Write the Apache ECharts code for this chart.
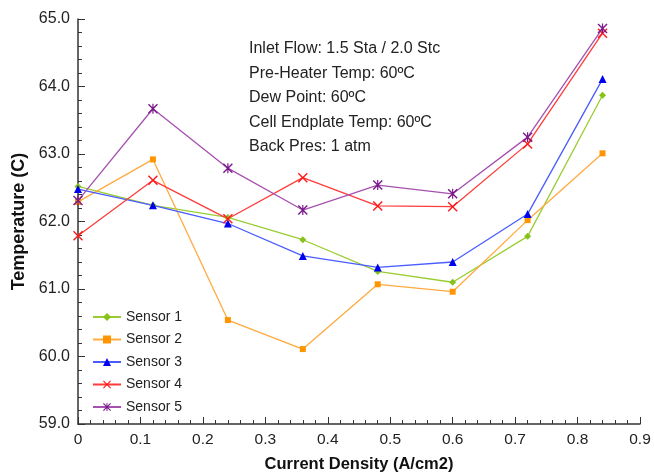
<!DOCTYPE html>
<html>
<head>
<meta charset="utf-8">
<script src="https://cdn.jsdelivr.net/npm/echarts@6/dist/echarts.min.js"></script>
<style>
    html, body { margin: 0; padding: 0; background: #fff; }
    #chart { width: 654px; height: 473px; }
</style>
</head>
<body>
<div id="chart"></div>
<script>
const currentDensity = [0, 0.12, 0.24, 0.36, 0.48, 0.6, 0.72, 0.84];

const sensor1 = [62.52, 62.24, 62.06, 61.73, 61.26, 61.10, 61.78, 63.87];
const sensor2 = [62.29, 62.92, 60.54, 60.11, 61.07, 60.96, 62.02, 63.01];
const sensor3 = [62.48, 62.24, 61.97, 61.49, 61.32, 61.40, 62.11, 64.11];
const sensor4 = [61.79, 62.61, 62.04, 62.65, 62.23, 62.22, 63.15, 64.79];
const sensor5 = [62.31, 63.67, 62.79, 62.17, 62.54, 62.41, 63.25, 64.86];

const conditionLines = [
    'Inlet Flow: 1.5 Sta / 2.0 Stc',
    'Pre-Heater Temp: 60ºC',
    'Dew Point: 60ºC',
    'Cell Endplate Temp: 60ºC',
    'Back Pres: 1 atm'
];

const FONT = '"Liberation Sans", Arial, sans-serif';

// X 和星号标记用填充多边形画出来
const crossSymbol = 'path://M0,1L1,0L5,4L9,0L10,1L6,5L10,9L9,10L5,6L1,10L0,9L4,5Z';
const starSymbol = 'path://M0,1L1,0L5,4L9,0L10,1L6,5L10,9L9,10L5,6L1,10L0,9L4,5Z M4.4,0H5.6V10H4.4Z';

const toPoints = (values) => currentDensity.map((x, i) => [x, values[i]]);

const makeSeries = (name, values, lineColor, markColor, symbol, symbolSize) => ({
    name,
    type: 'line',
    data: toPoints(values),
    symbol,
    symbolSize,
    showAllSymbol: true,
    lineStyle: { color: lineColor, width: 1.3 },
    itemStyle: { color: markColor },
    emphasis: { disabled: true },
    z: 3
});

const chart = echarts.init(document.getElementById('chart'));

chart.setOption({
    animation: false,
    textStyle: { fontFamily: FONT },
    grid: {
        left: 78,
        right: 14,
        top: 19,
        bottom: 49,
        outerBoundsMode: 'none'
    },
    legend: {
        orient: 'vertical',
        left: 87,
        top: 305,
        itemWidth: 28,
        itemHeight: 10,
        itemGap: 8.5,
        textStyle: { fontFamily: FONT, fontSize: 14, color: '#222' },
        data: ['Sensor 1', 'Sensor 2', 'Sensor 3', 'Sensor 4', 'Sensor 5']
    },
    xAxis: {
        type: 'value',
        min: 0,
        max: 0.9,
        interval: 0.1,
        name: 'Current Density (A/cm2)',
        nameLocation: 'middle',
        nameGap: 32,
        nameTextStyle: { fontFamily: FONT, fontSize: 16.5, fontWeight: 'bold', color: '#111' },
        axisLine: { lineStyle: { color: '#333', width: 1.5 } },
        axisTick: { inside: true, length: 7, lineStyle: { color: '#333' } },
        minorTick: { show: true, splitNumber: 5, length: 4, lineStyle: { color: '#333' } },
        axisLabel: {
            fontFamily: FONT,
            fontSize: 15.5,
            color: '#222',
            margin: 8,
            formatter: (v) => (v === 0 ? '0' : v.toFixed(1))
        },
        splitLine: { show: false }
    },
    yAxis: {
        type: 'value',
        min: 59,
        max: 65,
        interval: 1,
        name: 'Temperature (C)',
        nameLocation: 'middle',
        nameGap: 48,
        nameTextStyle: { fontFamily: FONT, fontSize: 18, fontWeight: 'bold', color: '#111' },
        axisLine: { show: true, lineStyle: { color: '#333', width: 1.5 } },
        axisTick: { show: true, inside: true, length: 7, lineStyle: { color: '#333' } },
        minorTick: { show: true, splitNumber: 5, length: 4, lineStyle: { color: '#333' } },
        axisLabel: {
            fontFamily: FONT,
            fontSize: 16,
            color: '#222',
            margin: 8,
            formatter: (v) => v.toFixed(1)
        },
        splitLine: { show: false }
    },
    graphic: conditionLines.map((line, i) => ({
        type: 'text',
        left: 249,
        top: 41 + i * 24.5,
        style: {
            text: line,
            fontFamily: FONT,
            fontSize: 16,
            fill: '#222'
        }
    })),
    series: [
        makeSeries('Sensor 1', sensor1, '#9acd32', '#86c21a', 'diamond', 7),
        makeSeries('Sensor 2', sensor2, '#ffaa40', '#ff9500', 'rect', 6),
        makeSeries('Sensor 3', sensor3, '#4a5cff', '#0000f0', 'triangle', 8),
        makeSeries('Sensor 4', sensor4, '#ff3b3b', '#ff1a1a', crossSymbol, 10),
        makeSeries('Sensor 5', sensor5, '#a650b0', '#7a1a8a', starSymbol, 10)
    ]
});

window.addEventListener('resize', () => chart.resize());
</script>
</body>
</html>
